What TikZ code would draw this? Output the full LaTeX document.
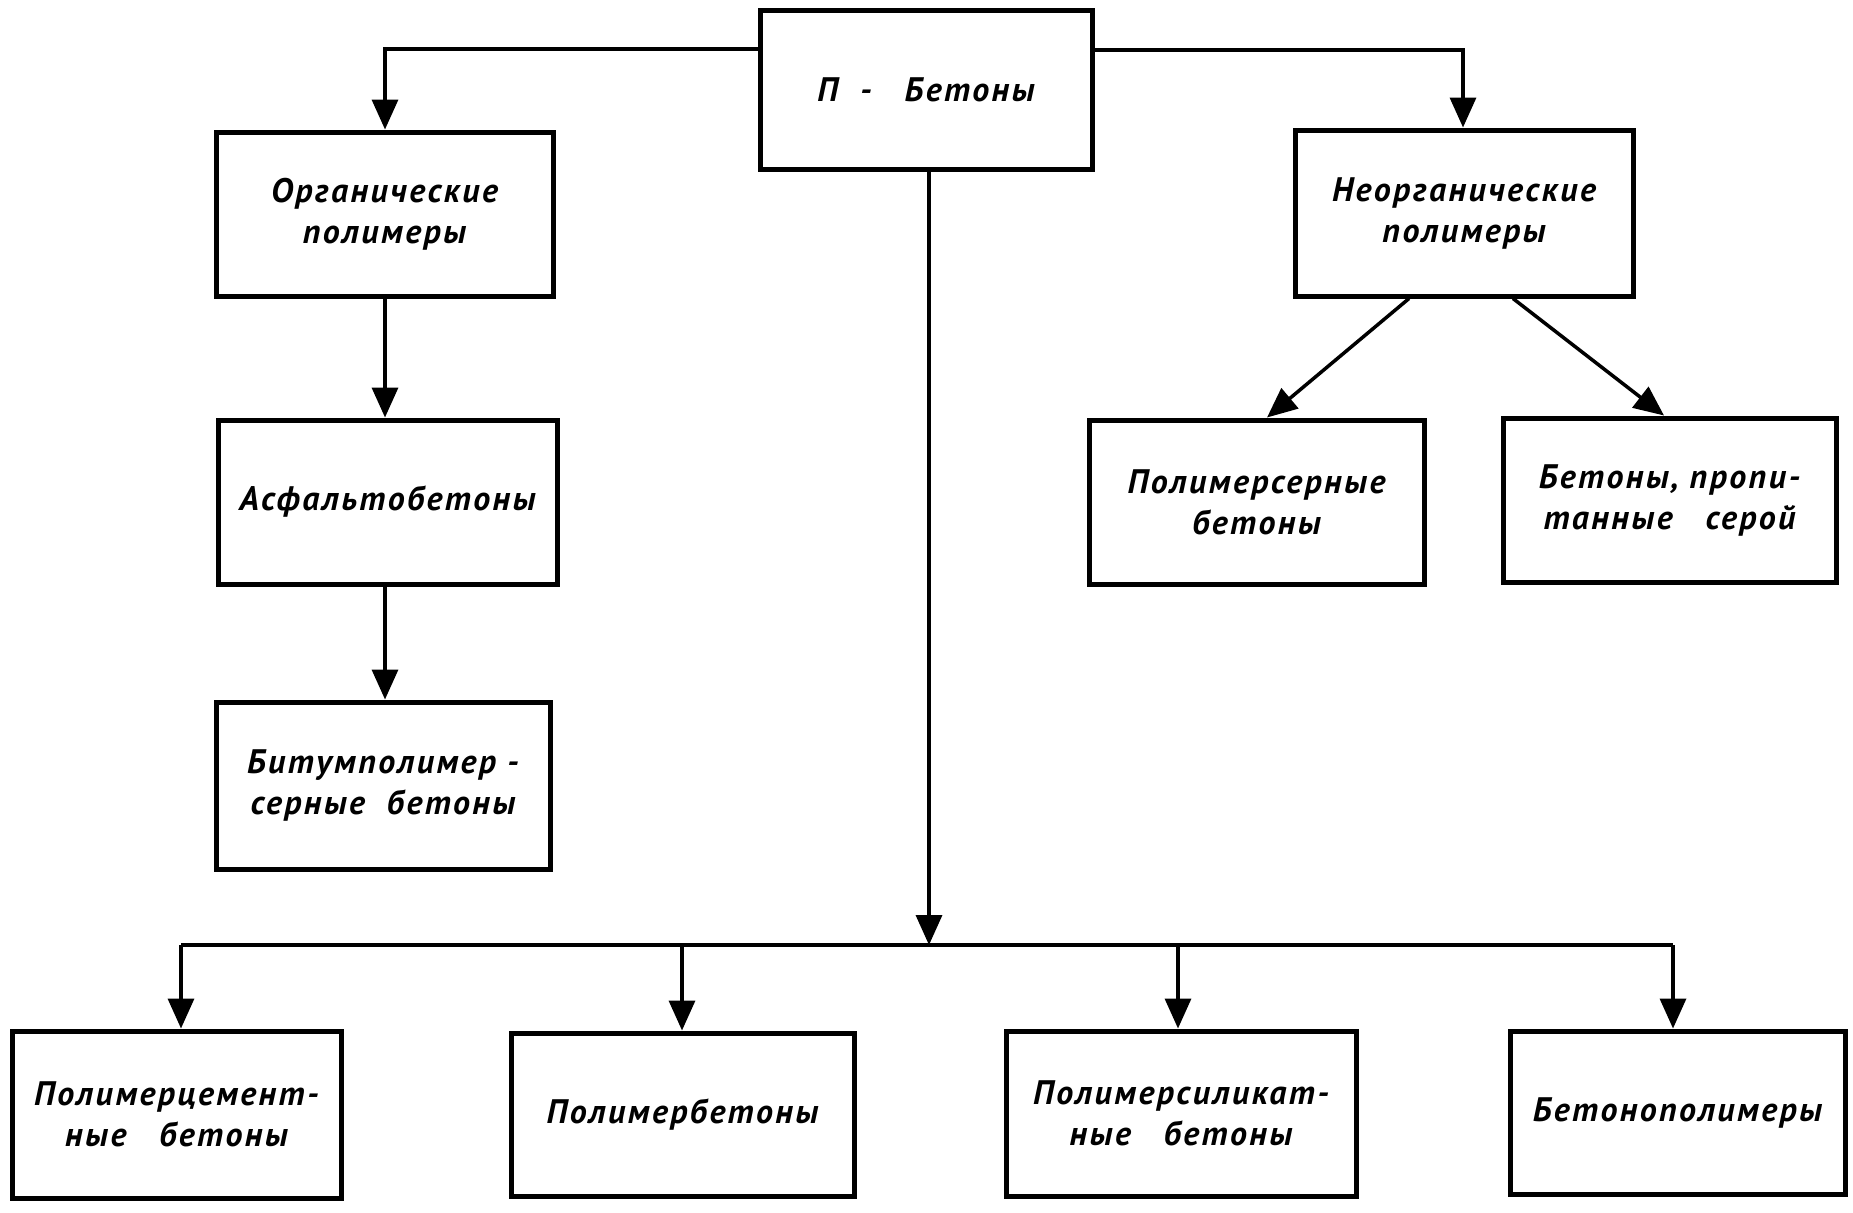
\documentclass[tikz,border=0pt]{standalone}
\usepackage{fontspec}
\setmainfont{PT Sans}
\newfontfamily\drawfont[LetterSpace=7]{PT Sans}
\usetikzlibrary{arrows.meta}
\begin{document}
\begin{tikzpicture}[x=1pt,y=-1pt,
  box/.style={draw, line width=5pt, inner sep=0pt, align=center,
    font=\drawfont\bfseries\itshape\fontsize{34}{41}\selectfont},
  conn/.style={line width=3.5pt, -{Triangle[length=30pt,width=26pt]}},
  plain/.style={line width=3.5pt}]
\useasboundingbox (0,0) rectangle (1853,1213);
% boxes
\node[box, minimum width=332pt, minimum height=159pt] (top) at (926,89.5) {П ~-~~ Бетоны};
\node[box, minimum width=337pt, minimum height=164pt] (org) at (384.5,214) {Органические\\полимеры};
\node[box, minimum width=339pt, minimum height=164pt] (asf) at (387.5,502) {Асфальтобетоны};
\node[box, minimum width=334pt, minimum height=167pt] (bit) at (383,785.5) {Битумполимер -\\серные~~бетоны};
\node[box, minimum width=338pt, minimum height=166pt] (neorg) at (1464,213) {Неорганические\\полимеры};
\node[box, minimum width=335pt, minimum height=164pt] (pser) at (1256.5,502) {Полимерсерные\\бетоны};
\node[box, minimum width=333pt, minimum height=164pt] (bser) at (1669.5,500) {Бетоны, пропи-\\танные~~~серой};
\node[box, minimum width=329pt, minimum height=167pt] (pcem) at (176.5,1114.5) {Полимерцемент-\\ные~~~бетоны};
\node[box, minimum width=343pt, minimum height=163pt] (pbet) at (682.5,1114.5) {Полимербетоны};
\node[box, minimum width=350pt, minimum height=165pt] (psil) at (1181,1113.5) {Полимерсиликат-\\ные~~~бетоны};
\node[box, minimum width=335pt, minimum height=163pt] (bpol) at (1677.5,1112.5) {Бетонополимеры};
% helper coordinates
\coordinate (tl) at (385,49);
\coordinate (tr) at (1463,50);
\coordinate (busc) at (929,945);
\coordinate (busL) at (181,945);
\coordinate (busR) at (1673,945);
\coordinate (d2) at (682,945);
\coordinate (d3) at (1178,945);
% connectors
\draw[conn] (top.west |- tl) -- (tl) -- (tl |- org.north);
\draw[conn] (top.east |- tr) -- (tr) -- (tr |- neorg.north);
\draw[conn] (tl |- org.south) -- (tl |- asf.north);
\draw[conn] (tl |- asf.south) -- (tl |- bit.north);
\draw[conn] (top.south -| busc) -- (busc);
\draw[plain] (busL) -- (busR);
\draw[conn] (busL) -- (busL |- pcem.north);
\draw[conn] (d2) -- (d2 |- pbet.north);
\draw[conn] (d3) -- (d3 |- psil.north);
\draw[conn] (busR) -- (busR |- bpol.north);
\draw[conn] ([xshift=-55pt]neorg.south) -- ([xshift=10.5pt]pser.north);
\draw[conn] ([xshift=49pt]neorg.south) -- ([xshift=-5.5pt]bser.north);
\end{tikzpicture}
\end{document}
